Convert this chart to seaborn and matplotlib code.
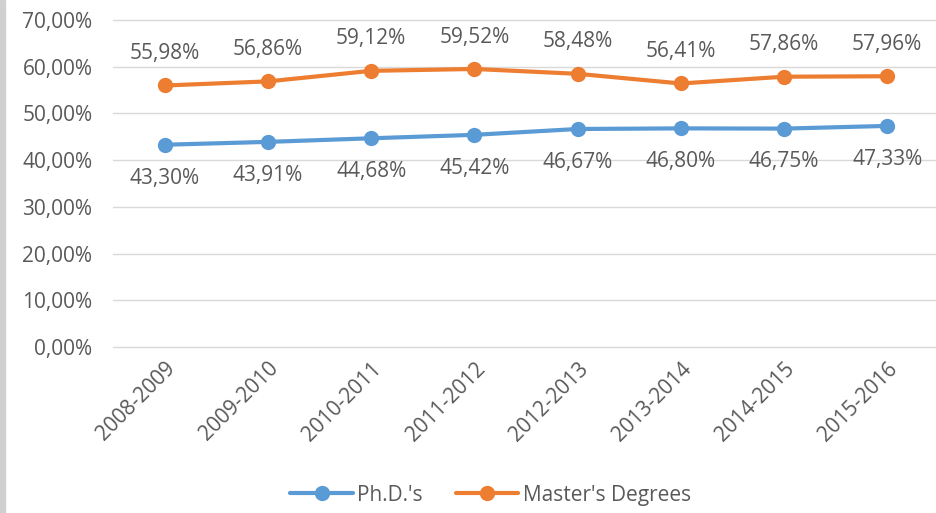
import numpy as np
import pandas as pd
import matplotlib
matplotlib.use('Agg')
import matplotlib.pyplot as plt
import seaborn as sns
from matplotlib.ticker import FuncFormatter

# ── Data ──────────────────────────────────────────────────────────────────────
years = ['2008-2009', '2009-2010', '2010-2011', '2011-2012',
         '2012-2013', '2013-2014', '2014-2015', '2015-2016']
phd = [43.30, 43.91, 44.68, 45.42, 46.67, 46.80, 46.75, 47.33]
masters = [55.98, 56.86, 59.12, 59.52, 58.48, 56.41, 57.86, 57.96]
series_names = ["Ph.D.'s", "Master's Degrees"]
colors = ['#5B9BD5', '#ED7D31']

df = pd.DataFrame({
    'year': years * 2,
    'value': phd + masters,
    'series': [series_names[0]] * len(years) + [series_names[1]] * len(years),
})
df['x'] = np.tile(np.arange(len(years)), 2)

# ── Plot ──────────────────────────────────────────────────────────────────────
sns.set_style('white')
plt.rcParams['font.family'] = ['Open Sans', 'DejaVu Sans']
grey = '#595959'
fs = 15

fig = plt.figure(figsize=(9.36, 5.13), dpi=100)
ax = fig.add_axes([0.121, 0.3236, 0.882, 0.6374])

sns.lineplot(data=df, x='x', y='value', hue='series', palette=colors,
             marker='o', markersize=11, markeredgewidth=0, linewidth=3,
             ax=ax, legend=True)

fmt = lambda v: f'{v:.2f}%'.replace('.', ',')
for i, v in enumerate(masters):
    ax.annotate(fmt(v), (i, v), xytext=(0, 23), textcoords='offset points',
                ha='center', va='center', fontsize=fs, color=grey)
for i, v in enumerate(phd):
    ax.annotate(fmt(v), (i, v), xytext=(0, -24), textcoords='offset points',
                ha='center', va='center', fontsize=fs, color=grey)

ax.set_ylim(0, 70)
ax.set_yticks(np.arange(0, 71, 10))
ax.yaxis.set_major_formatter(FuncFormatter(lambda v, p: fmt(v)))
ax.set_xlim(-0.5, len(years) - 0.5)
ax.set_xticks(range(len(years)))
ax.set_xticklabels(years, rotation=45, ha='right', rotation_mode='anchor')
ax.tick_params(axis='y', labelsize=fs, labelcolor=grey, length=0, pad=15)
ax.tick_params(axis='x', labelsize=fs, labelcolor=grey, length=0, pad=8)
ax.grid(axis='y', color='#D9D9D9', linewidth=1)
for gl in ax.get_ygridlines():
    gl.set_clip_on(False)
ax.set_axisbelow(True)
for s in ax.spines.values():
    s.set_visible(False)
ax.set_xlabel('')
ax.set_ylabel('')

leg = ax.legend(loc='center', bbox_to_anchor=(0.457, -0.453), ncol=2,
                frameon=False, fontsize=fs, handlelength=3.0,
                columnspacing=1.6, handletextpad=0.2)
for t in leg.get_texts():
    t.set_color(grey)

# grey left border strip
fig.patches.append(plt.Rectangle((0, 0), 0.005, 1, transform=fig.transFigure,
                                 color='#D0D0D0', zorder=0))

fig.savefig('out.png', dpi=100)
